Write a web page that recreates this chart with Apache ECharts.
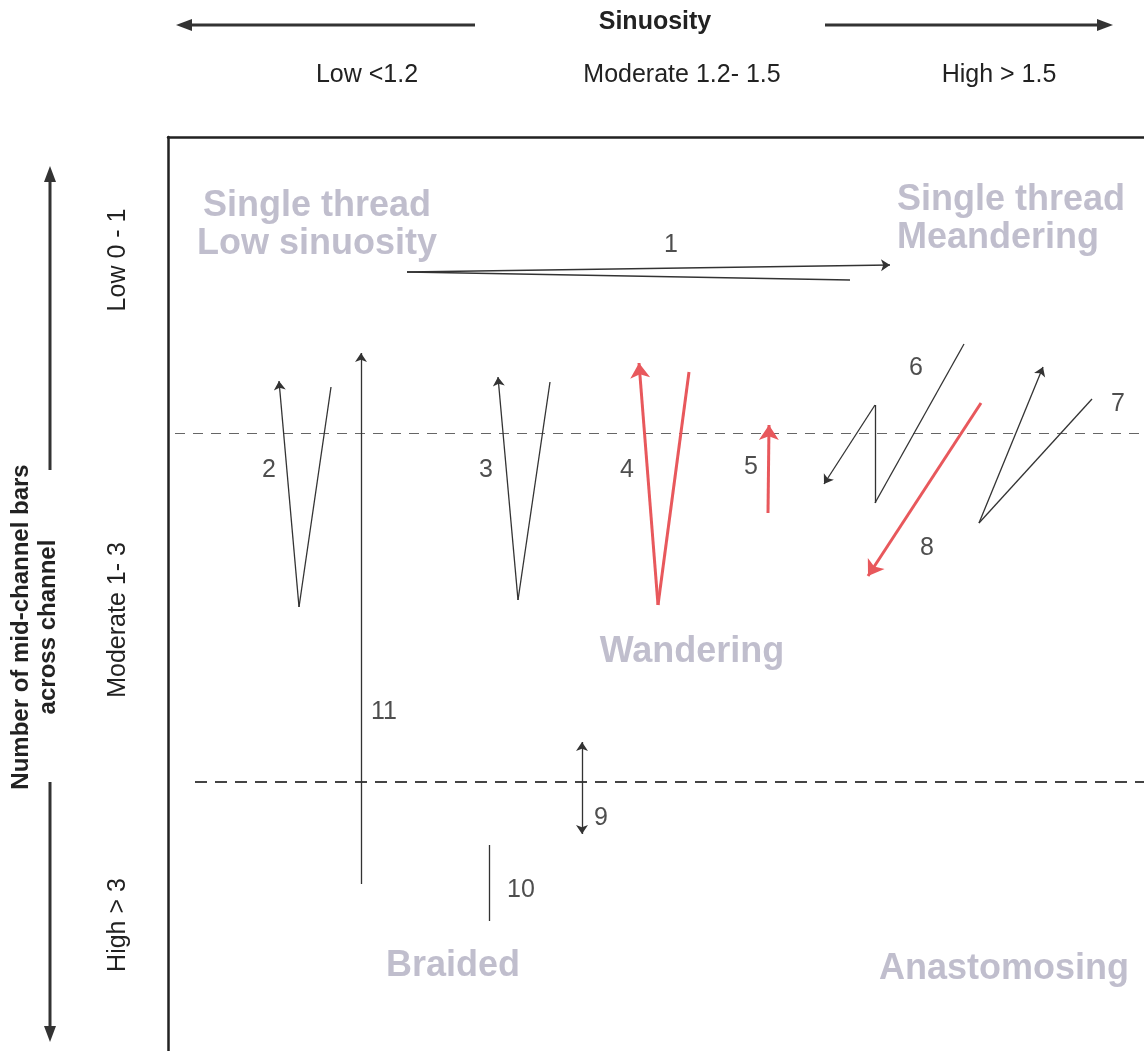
<!DOCTYPE html>
<html>
<head>
<meta charset="utf-8">
<script src="https://cdn.jsdelivr.net/npm/echarts@6/dist/echarts.min.js"></script>
<style>
  html, body { margin: 0; padding: 0; background: #fff; }
  #chart { width: 1144px; height: 1051px; }
</style>
</head>
<body>
<div id="chart"></div>
<script>
// diagram space = page pixels inside the framed box
var xRange = [168, 1144];
var yRange = [137, 1051];

// channel trajectories (points in order of travel)
var path1 = [[850, 280], [407, 272], [890, 265]];
var path2 = [[331, 387], [299, 607], [279, 381]];
var path3 = [[550, 382], [518, 600], [498, 377]];
var path4 = [[689, 372], [658, 605], [639, 363]];
var path5 = [[768, 513], [769, 425]];
var path6 = [[964, 344], [875, 503], [875, 405], [824, 484]];
var path7 = [[1092, 399], [979, 523], [1043, 367]];
var path8 = [[981, 403], [868, 576]];
var path9 = [[582, 742], [582, 834]];
var path10 = [[489, 845], [489, 921]];
var path11 = [[361, 884], [361, 353]];

var blackPaths = [path1, path2, path3, path6, path7, path11];
var redPaths = [path4, path5, path8];

// class boundaries
var upperBoundary = [[175, 433], [1144, 433]];
var lowerBoundary = [[195, 782], [1144, 782]];

var pathNames = ['1', '2', '3', '4', '5', '6', '7', '8', '9', '10', '11'];
var pathLabelPos = [[671, 245], [269, 470], [486, 470], [627, 470], [751, 467], [916, 368],
                    [1118, 404], [927, 548], [601, 818], [521, 890], [384, 712]];

var regionNames = ['Single thread\nLow sinuosity', 'Single thread\nMeandering', 'Wandering', 'Braided', 'Anastomosing'];
var regionPos = [[317, 225], [897, 219], [692, 652], [453, 966], [1004, 969]];
var regionAlign = ['center', 'left', 'center', 'center', 'center'];

var sinuosityLabels = ['Low <1.2', 'Moderate 1.2- 1.5', 'High > 1.5'];
var sinuosityX = [367, 682, 999];
var barLabels = ['Low 0 - 1', 'Moderate 1- 3', 'High > 3'];
var barY = [260, 620, 925];

var FONT = '"Liberation Sans", Arial, sans-serif';

function splitPath(paths) {
  var head = [], tail = [];
  paths.forEach(function (p) {
    for (var i = 0; i < p.length - 1; i++) {
      var seg = {coords: [p[i], p[i + 1]]};
      if (i === p.length - 2) head.push(seg); else tail.push(seg);
    }
  });
  return {head: head, tail: tail};
}

var black = splitPath(blackPaths);
var red = splitPath(redPaths);

function linesSeries(data, color, width, symbol, size, type) {
  return {
    type: 'lines',
    coordinateSystem: 'cartesian2d',
    silent: true,
    symbol: symbol,
    symbolSize: size,
    lineStyle: {color: color, width: width, opacity: 1, type: type || 'solid'},
    data: data,
    z: 3
  };
}

var chart = echarts.init(document.getElementById('chart'), null, {renderer: 'canvas'});

var graphics = [];
sinuosityLabels.forEach(function (t, i) {
  graphics.push({type: 'text', x: sinuosityX[i], y: 75,
    style: {text: t, font: '25px ' + FONT, fill: '#222', align: 'center', verticalAlign: 'middle'}});
});
barLabels.forEach(function (t, i) {
  graphics.push({type: 'text', x: 118, y: barY[i], rotation: Math.PI / 2,
    style: {text: t, font: '25px ' + FONT, fill: '#222', align: 'center', verticalAlign: 'middle'}});
});
graphics.push(
  {type: 'text', x: 655, y: 22,
    style: {text: 'Sinuosity', font: 'bold 25px ' + FONT, fill: '#222', align: 'center', verticalAlign: 'middle'}},
  {type: 'text', x: 35, y: 627, rotation: Math.PI / 2,
    style: {text: 'Number of mid-channel bars\nacross channel', font: 'bold 24px ' + FONT, lineHeight: 27,
      fill: '#222', align: 'center', verticalAlign: 'middle'}},
  // header arrows
  {type: 'line', shape: {x1: 188, y1: 25, x2: 475, y2: 25}, style: {stroke: '#333', lineWidth: 3}},
  {type: 'polygon', shape: {points: [[176, 25], [192, 19], [192, 31]]}, style: {fill: '#333'}},
  {type: 'line', shape: {x1: 825, y1: 25, x2: 1100, y2: 25}, style: {stroke: '#333', lineWidth: 3}},
  {type: 'polygon', shape: {points: [[1113, 25], [1097, 19], [1097, 31]]}, style: {fill: '#333'}},
  // side arrows
  {type: 'line', shape: {x1: 50, y1: 180, x2: 50, y2: 470}, style: {stroke: '#333', lineWidth: 3}},
  {type: 'polygon', shape: {points: [[50, 166], [44, 182], [56, 182]]}, style: {fill: '#333'}},
  {type: 'line', shape: {x1: 50, y1: 782, x2: 50, y2: 1028}, style: {stroke: '#333', lineWidth: 3}},
  {type: 'polygon', shape: {points: [[50, 1042], [44, 1026], [56, 1026]]}, style: {fill: '#333'}}
);

var option = {
  backgroundColor: '#fff',
  animation: false,
  grid: {left: xRange[0], top: yRange[0], right: 0, bottom: 0},
  xAxis: {
    type: 'value', min: xRange[0], max: xRange[1], position: 'top',
    axisLine: {show: true, onZero: false, lineStyle: {color: '#222', width: 2.5}},
    axisTick: {show: false}, axisLabel: {show: false}, splitLine: {show: false}
  },
  yAxis: {
    type: 'value', min: yRange[0], max: yRange[1], inverse: true,
    axisLine: {show: true, onZero: false, lineStyle: {color: '#222', width: 2.5}},
    axisTick: {show: false}, axisLabel: {show: false}, splitLine: {show: false}
  },
  graphic: graphics,
  series: [
    linesSeries([{coords: upperBoundary}], '#666', 1.2, 'none', 0, [10, 8]),
    linesSeries([{coords: lowerBoundary}], '#444', 2, 'none', 0, [12, 8]),
    linesSeries(black.tail.concat([{coords: path10}]), '#333', 1.3, 'none', 0),
    linesSeries(black.head, '#333', 1.3, ['none', 'arrow'], 9),
    linesSeries([{coords: path9}], '#333', 1.3, ['arrow', 'arrow'], 9),
    linesSeries(red.tail, '#e8585c', 3, 'none', 0),
    linesSeries(red.head, '#e8585c', 3, ['none', 'arrow'], 15),
    {
      type: 'scatter', silent: true, symbolSize: 0,
      data: pathNames.map(function (n, i) { return {name: n, value: pathLabelPos[i]}; }),
      label: {show: true, position: 'inside', formatter: '{b}', color: '#222',
        fontFamily: FONT, fontSize: 25},
      z: 4
    },
    {
      type: 'scatter', silent: true, symbolSize: 0,
      data: regionNames.map(function (n, i) {
        return {name: n, value: regionPos[i], label: {align: regionAlign[i]}};
      }),
      label: {show: true, position: 'inside', formatter: '{b}', color: '#b0aec0',
        fontFamily: FONT, fontSize: 36, fontWeight: 'bold', lineHeight: 38},
      z: 2
    }
  ]
};

chart.setOption(option);
</script>
</body>
</html>
